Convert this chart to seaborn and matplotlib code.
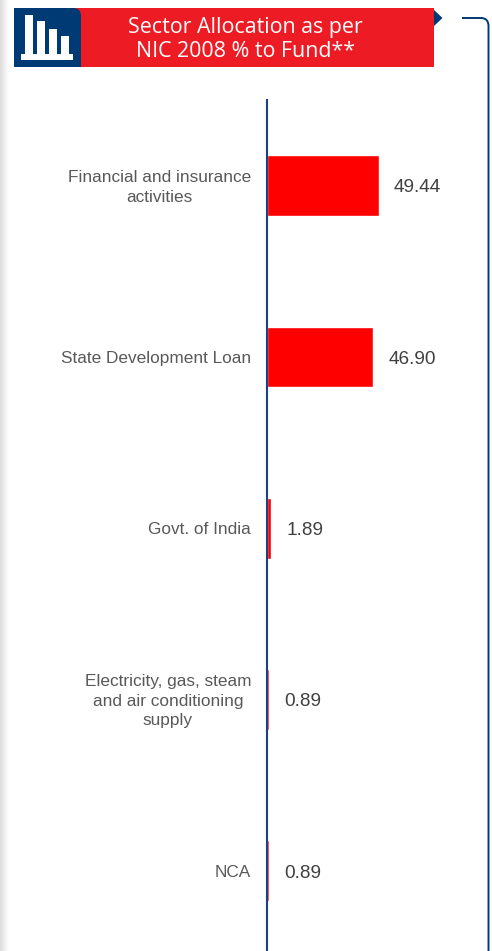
import numpy as np
import pandas as pd
import matplotlib
matplotlib.use("Agg")
import matplotlib.pyplot as plt
from matplotlib.patches import Rectangle, Polygon, PathPatch
from matplotlib.path import Path
from matplotlib.transforms import ScaledTranslation
import seaborn as sns

sectors = ["Financial and insurance\nactivities", "State Development Loan", "Govt. of India",
           "Electricity, gas, steam\nand air conditioning\nsupply", "NCA"]
values = [49.44, 46.90, 1.89, 0.89, 0.89]
value_labels = ["49.44", "46.90", "1.89", "0.89", "0.89"]
title_lines = "Sector Allocation as per\nNIC 2008 % to Fund**"
icon_bar_tops = [15, 21, 29, 36]

W, H = 492, 951
sns.set_theme(style="white")
plt.rcParams['font.family'] = ['Liberation Sans', 'DejaVu Sans']
fig = plt.figure(figsize=(W / 100, H / 100), dpi=100, facecolor="white")

def fx(x): return x / W
def fy(y): return 1 - y / H
def frect(x0, y0, x1, y1, color, z=1):
    fig.add_artist(Rectangle((fx(x0), fy(y1)), (x1 - x0) / W, (y1 - y0) / H,
                             transform=fig.transFigure, facecolor=color, edgecolor="none", zorder=z))

# left page shadow
sh = fig.add_axes([0, 0, 9 / W, 1])
sh.imshow(np.linspace(0.86, 1, 64).reshape(1, -1), cmap="gray", vmin=0, vmax=1, aspect="auto")
sh.axis("off")

# chart
ax = fig.add_axes([fx(267), 0, (W - 267) / W, fy(100)])
df = pd.DataFrame({"sector": sectors, "value": values})
sns.barplot(data=df, y="sector", x="value", color="#FF0000", saturation=1, width=0.355, ax=ax, zorder=2)
scale = 2.265
ax.set_xlim(0, (W - 267) / scale)
ax.set_ylim(-0.5 + (951 - 99) / 171.5, -0.5)
ax.set_xlabel(""); ax.set_ylabel("")
ax.set_xticks([])
ax.tick_params(axis="y", length=0, pad=11.5, labelsize=12.4, labelcolor="#595959")
shift = ScaledTranslation(0, -1.5 / 100, fig.dpi_scale_trans)
for t in ax.get_yticklabels():
    t.set_multialignment("center")
    t.set_linespacing(1.4)
    t.set_verticalalignment("center")
    t.set_transform(t.get_transform() + shift)
for s in ["top", "right", "bottom"]:
    ax.spines[s].set_visible(False)
ax.spines["left"].set_color("#1F3F80")
ax.spines["left"].set_linewidth(1.5)
ax.spines["left"].set_zorder(3)
ax.patch.set_alpha(0)
labels = ax.bar_label(ax.containers[0], labels=value_labels, padding=10.8, fontsize=13.7, color="#404040")
for lab in labels:
    lab.xyann = (lab.xyann[0], -1.6)

# header
NAVY = "#003A75"
frect(14, 8, 434, 67, "#ED1C24", 5)
frect(14, 8, 70, 67, NAVY, 6)
frect(70, 20, 81, 67, NAVY, 6)
verts = [(fx(70), fy(8)), (fx(73), fy(8)), (fx(81), fy(8)), (fx(81), fy(16)), (fx(81), fy(20)), (fx(70), fy(20)), (fx(70), fy(8))]
codes = [Path.MOVETO, Path.LINETO, Path.CURVE3, Path.CURVE3, Path.LINETO, Path.LINETO, Path.CLOSEPOLY]
fig.add_artist(PathPatch(Path(verts, codes), transform=fig.transFigure, facecolor=NAVY, edgecolor="none", zorder=6))
frect(21, 54, 73, 60, "white", 7)
for i, top in enumerate(icon_bar_tops):
    frect(25 + 12 * i, top, 33 + 12 * i, 55, "white", 7)
fig.text(fx(245.5), fy(39.5), title_lines, color="white", fontsize=15.4, ha="center", va="center",
         family=["Open Sans", "DejaVu Sans"], linespacing=1.22, zorder=8)
fig.add_artist(Polygon([(fx(434), fy(10)), (fx(442.5), fy(18)), (fx(434), fy(26))], closed=True,
                       transform=fig.transFigure, facecolor=NAVY, edgecolor="none", zorder=5))
# right bracket
bverts = [(fx(462), fy(18)), (fx(481), fy(18)), (fx(488.5), fy(18)), (fx(488.5), fy(26)), (fx(488.5), fy(951))]
bcodes = [Path.MOVETO, Path.LINETO, Path.CURVE3, Path.CURVE3, Path.LINETO]
fig.add_artist(PathPatch(Path(bverts, bcodes), transform=fig.transFigure, facecolor="none",
                         edgecolor=NAVY, linewidth=1.4, zorder=5))

fig.savefig("out.png", dpi=100)
